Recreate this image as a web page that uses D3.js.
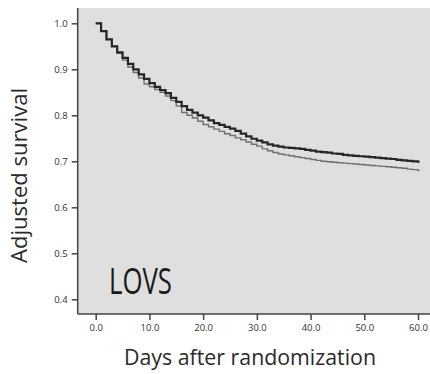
<!DOCTYPE html>
<html><head><meta charset="utf-8">
<script src="https://cdn.jsdelivr.net/npm/d3@7"></script>
<style>body{margin:0;background:#fff}svg{display:block}</style>
</head><body>
<svg id="c" width="430" height="374"></svg>
<script>
const days = d3.range(0, 61);
const blackSurv = [1.000,0.983,0.965,0.950,0.937,0.925,0.912,0.900,0.889,0.879,
0.870,0.862,0.855,0.848,0.838,0.829,0.820,0.812,0.806,0.800,
0.795,0.789,0.783,0.779,0.775,0.771,0.766,0.760,0.754,0.749,
0.745,0.741,0.737,0.734,0.732,0.730,0.729,0.728,0.727,0.725,
0.723,0.721,0.720,0.719,0.717,0.716,0.714,0.713,0.712,0.711,
0.710,0.709,0.708,0.707,0.706,0.705,0.703,0.702,0.701,0.700,0.699];
const graySurv = [1.000,0.983,0.965,0.950,0.935,0.920,0.905,0.893,0.881,0.868,
0.862,0.856,0.850,0.842,0.832,0.820,0.806,0.800,0.794,0.787,
0.780,0.775,0.770,0.765,0.760,0.756,0.751,0.747,0.742,0.737,
0.733,0.727,0.723,0.719,0.716,0.714,0.712,0.710,0.708,0.706,
0.704,0.702,0.700,0.699,0.698,0.697,0.696,0.695,0.694,0.693,
0.692,0.691,0.690,0.689,0.688,0.687,0.686,0.685,0.683,0.682,0.680];
const xTicks = [0,10,20,30,40,50,60];
const yTicks = [0.4,0.5,0.6,0.7,0.8,0.9,1.0];

const svg = d3.select("#c");
const L = 77.7, R = 430, T = 8, B = 314;
const x = d3.scaleLinear().domain([0,60]).range([95.7,418]);
const y = d3.scaleLinear().domain([0.4,1.0]).range([299.3,23.3]);

svg.append("rect").attr("x",L).attr("y",T).attr("width",R-L).attr("height",B-T).attr("fill","#dfdfdf");

const line = d3.line().x(d=>x(d[0])).y(d=>y(d[1])).curve(d3.curveStepAfter);
const grayPts = days.map((d,i)=>[d,graySurv[i]]); grayPts.push([60.3, graySurv[60]]);
const blackPts = days.map((d,i)=>[d,blackSurv[i]]); blackPts.push([60.3, blackSurv[60]]);
svg.append("path").attr("d",line(grayPts)).attr("fill","none").attr("stroke","#707070").attr("stroke-width",1.4);
svg.append("path").attr("d",line(blackPts)).attr("fill","none").attr("stroke","#262626").attr("stroke-width",2.2);

const fam = "'Open Sans', 'Liberation Sans', sans-serif";
const yAx = svg.append("g").attr("transform",`translate(${L},0)`)
  .call(d3.axisLeft(y).tickValues(yTicks).tickFormat(d3.format(".1f")).tickSize(6).tickPadding(4));
yAx.select(".domain").attr("d",`M0,${T}V${B}`);
const xAx = svg.append("g").attr("transform",`translate(0,${B})`)
  .call(d3.axisBottom(x).tickValues(xTicks).tickFormat(d3.format(".1f")).tickSize(6).tickPadding(4));
xAx.select(".domain").attr("d",`M${L},0H${R}`);
svg.selectAll(".domain").attr("stroke","#444").attr("stroke-width",1.5);
svg.selectAll(".tick line").attr("stroke","#444").attr("stroke-width",1.5);
svg.selectAll(".tick text").attr("fill","#333").style("font-family",fam).style("font-size","9.5px");

svg.append("text").attr("x",109).attr("y",294).attr("textLength",63).attr("lengthAdjust","spacingAndGlyphs")
  .style("font-family",fam).style("font-size","36px").attr("fill","#1a1a1a").text("LOVS");
svg.append("text").attr("x",124).attr("y",365).attr("textLength",252).attr("lengthAdjust","spacingAndGlyphs")
  .style("font-family",fam).style("font-size","21px").attr("fill","#2a2a2a").text("Days after randomization");
svg.append("text").attr("transform","translate(27,263) rotate(-90)").attr("textLength",175).attr("lengthAdjust","spacingAndGlyphs")
  .style("font-family",fam).style("font-size","21px").attr("fill","#2a2a2a").text("Adjusted survival");
</script>
</body></html>
